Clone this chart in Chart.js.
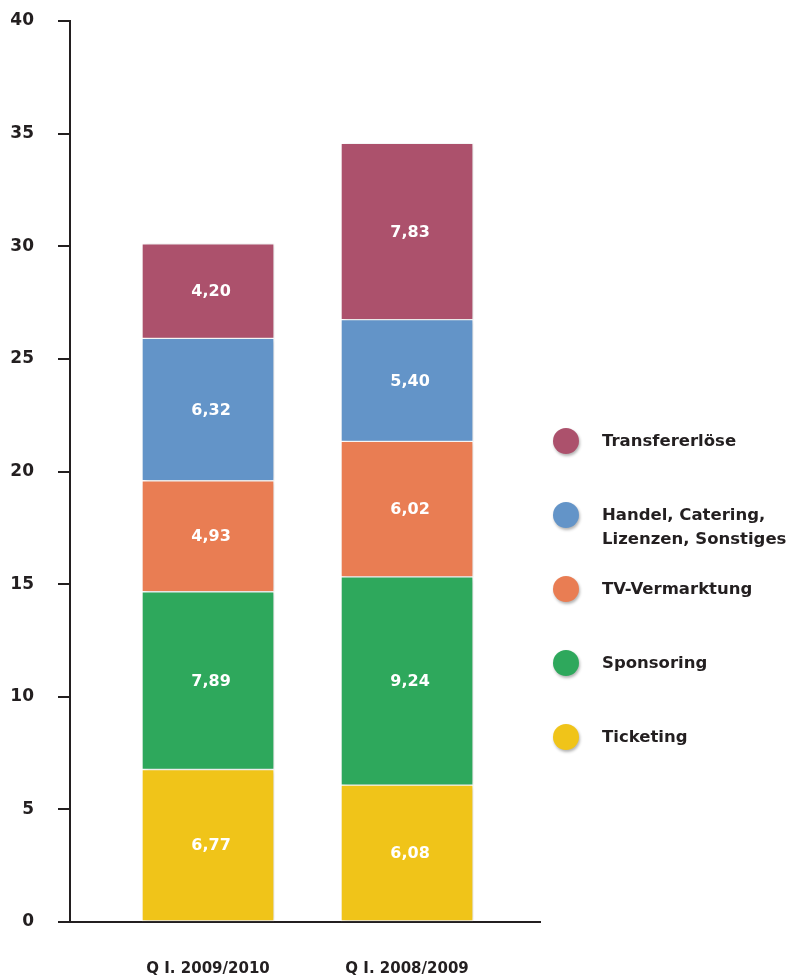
<!DOCTYPE html>
<html>
<head>
<meta charset="utf-8">
<script src="https://cdn.jsdelivr.net/npm/chart.js@4/dist/chart.umd.min.js"></script>
<style>
  html, body { margin: 0; padding: 0; background: #fff; }
  #wrap { position: relative; width: 787px; height: 978px; }
  #legend { position: absolute; left: 553px; top: 429px; font: bold 16.5px "DejaVu Sans", sans-serif; color: #231f20; }
  .item { position: relative; height: 74px; }
  .dot { position: absolute; left: 0; top: -1px; width: 26px; height: 26px; border-radius: 50%;
         box-shadow: 1px 2px 3px rgba(0,0,0,.3); }
  .txt { position: absolute; left: 49px; top: 0; line-height: 24px; white-space: pre; }
</style>
</head>
<body>
<div id="wrap">
  <canvas id="myChart" width="787" height="978"></canvas>
  <div id="legend"></div>
</div>
<script>
// categories (bars, left to right)
const categories = ['Q I. 2009/2010', 'Q I. 2008/2009'];

// series, bottom to top of the stack
const ticketing   = [6.77, 6.08];
const sponsoring  = [7.89, 9.24];
const tvVermarkt  = [4.93, 6.02];
const handel      = [6.32, 5.40];
const transfer    = [4.20, 7.83];

const yTicks = [0, 5, 10, 15, 20, 25, 30, 35, 40];

const series = [
  { label: 'Ticketing', values: ticketing, color: '#F0C419' },
  { label: 'Sponsoring', values: sponsoring, color: '#2EA85C' },
  { label: 'TV-Vermarktung', values: tvVermarkt, color: '#E97D53' },
  { label: 'Handel, Catering,\nLizenzen, Sonstiges', values: handel, color: '#6394C8' },
  { label: 'Transfererlöse', values: transfer, color: '#AC516C' }
];

var ink = '#231f20';
var font = '"DejaVu Sans", sans-serif';

function fmt(v) {
  return v.toFixed(2).replace('.', ',');
}

var barStuff = {
  id: 'barStuff',
  beforeDatasetsDraw: function (chart) {
    var ctx = chart.ctx;
    ctx.save();
    ctx.shadowColor = 'rgba(0,0,0,0.18)';
    ctx.shadowBlur = 5;
    ctx.shadowOffsetX = 2;
    ctx.shadowOffsetY = 1;
  },
  afterDatasetsDraw: function (chart) {
    var ctx = chart.ctx;
    ctx.restore();
    // value labels in the middle of each segment
    ctx.save();
    ctx.fillStyle = '#fff';
    ctx.font = 'bold 16px ' + font;
    ctx.textAlign = 'center';
    ctx.textBaseline = 'middle';
    chart.data.datasets.forEach(function (ds, i) {
      var meta = chart.getDatasetMeta(i);
      meta.data.forEach(function (bar, j) {
        var p = bar.getProps(['x', 'y', 'base'], true);
        ctx.fillText(fmt(ds.data[j].y), p.x + 3, (p.y + p.base) / 2 + 1);
      });
    });
    ctx.restore();
  }
};

const data = {
  datasets: series.map(function (s) {
    return {
      label: s.label,
      data: s.values.map(function (v, i) { return { x: i + 1, y: v }; }),
      backgroundColor: s.color,
      borderColor: '#fff',
      borderWidth: 1,
      borderSkipped: false,
      barThickness: 132
    };
  })
};

const config = {
  type: 'bar',
  data: data,
  plugins: [barStuff],
  options: {
    responsive: false,
    animation: false,
    layout: { padding: { left: 10, right: 247, top: 21, bottom: 0 } },
    plugins: { legend: { display: false }, tooltip: { enabled: false } },
    scales: {
      x: {
        type: 'linear',
        stacked: true,
        offset: false,
        min: 0.3065,
        max: 2.668,
        afterBuildTicks: function (scale) {
          scale.ticks = categories.map(function (c, i) { return { value: i + 1 }; });
        },
        afterFit: function (scale) { scale.height = 56; },
        ticks: {
          padding: 38,
          color: ink,
          font: { family: font, weight: 'bold', size: 15 },
          callback: function (v) { return categories[v - 1]; }
        },
        grid: { display: true, drawOnChartArea: false, drawTicks: false, color: 'transparent' },
        border: { display: true, color: ink, width: 2 }
      },
      y: {
        stacked: true,
        min: 0,
        max: 40,
        afterBuildTicks: function (scale) {
          scale.ticks = yTicks.map(function (t) { return { value: t }; });
        },
        afterFit: function (scale) {
          scale.width = 60;
          // the label padding should not push the plot down
          scale.paddingTop = 10;
          scale.paddingBottom = 10;
        },
        ticks: {
          padding: 24,
          color: ink,
          font: { family: font, weight: 'bold', size: 17 }
        },
        grid: { drawOnChartArea: false, drawTicks: true, tickLength: 12, color: ink, lineWidth: 2 },
        border: { display: true, color: ink, width: 2 }
      }
    }
  }
};

const myChart = new Chart(document.getElementById('myChart'), config);

// legend, top of stack first
var legend = document.getElementById('legend');
series.slice().reverse().forEach(function (s) {
  var item = document.createElement('div');
  item.className = 'item';
  item.innerHTML = '<div class="dot" style="background:' + s.color + '"></div><div class="txt"></div>';
  item.querySelector('.txt').textContent = s.label;
  legend.appendChild(item);
});
</script>
</body>
</html>
